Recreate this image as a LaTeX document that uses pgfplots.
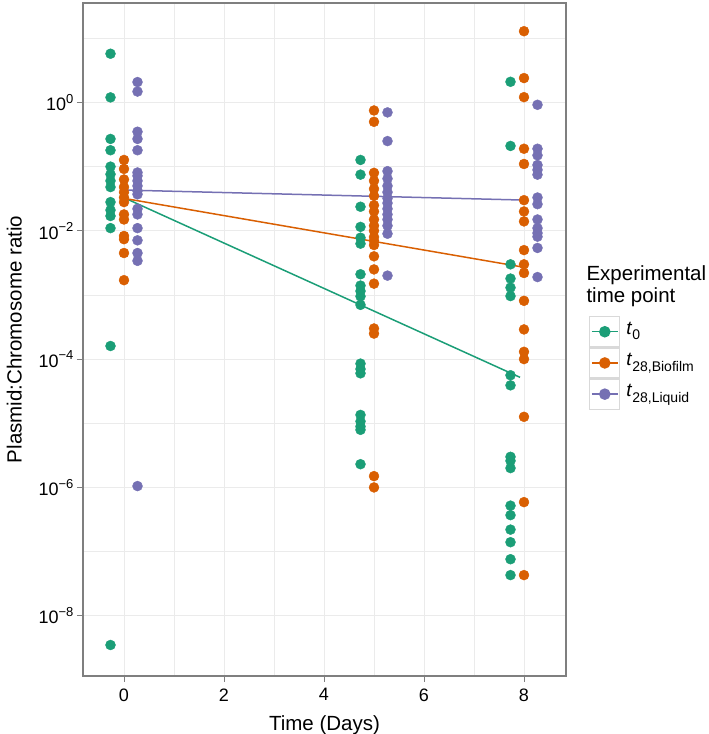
\documentclass[border=0pt]{standalone}
\usepackage{pgfplots}
\pgfplotsset{compat=1.18}
\usepackage{fontspec}
\setmainfont{Liberation Sans}
\definecolor{cg}{HTML}{1B9E77}
\definecolor{co}{HTML}{D95F02}
\definecolor{cp}{HTML}{7570B3}
\definecolor{gridc}{HTML}{EBEBEB}
\definecolor{bordc}{HTML}{7F7F7F}
\newcommand\tp[1]{10\raisebox{0.42em}{\fontsize{13}{13}\selectfont #1}}
\newcommand\lab[1]{\textit{t}\raisebox{-0.28em}{\fontsize{14}{14}\selectfont #1}}

\pgfplotstableread{
x y
-0.27 5.75
-0.27 1.2
-0.27 0.27
-0.27 0.18
-0.27 0.1
-0.27 0.076
-0.27 0.06
-0.27 0.048
-0.27 0.028
-0.27 0.021
-0.27 0.017
-0.27 0.011
-0.27 1.6e-4
-0.27 3.5e-9
4.73 0.127
4.73 0.075
4.73 0.0237
4.73 0.0115
4.73 0.0078
4.73 0.0063
4.73 0.0021
4.73 0.0014
4.73 0.00115
4.73 0.00095
4.73 0.0007
4.73 8.5e-5
4.73 7e-5
4.73 6e-5
4.73 1.35e-5
4.73 1.07e-5
4.73 8.9e-6
4.73 7.9e-6
4.73 2.3e-6
7.73 2.1
7.73 0.21
7.73 0.003
7.73 0.0018
7.73 0.0013
7.73 0.00096
7.73 5.6e-5
7.73 3.9e-5
7.73 3e-6
7.73 2.6e-6
7.73 2.0e-6
7.73 5.2e-7
7.73 3.7e-7
7.73 2.2e-7
7.73 1.4e-7
7.73 7.6e-8
7.73 4.3e-8
}\greendata

\pgfplotstableread{
x y
0 0.127
0 0.092
0 0.063
0 0.048
0 0.040
0 0.033
0 0.028
0 0.018
0 0.015
0 0.0083
0 0.0074
0 0.0045
0 0.0017
5 0.75
5 0.5
5 0.08
5 0.06
5 0.045
5 0.035
5 0.025
5 0.02
5 0.015
5 0.012
5 0.01
5 0.008
5 0.007
5 0.006
5 0.004
5 0.0025
5 0.0015
5 3e-4
5 2.5e-4
5 1.5e-6
5 1e-6
8 12.9
8 2.4
8 1.21
8 0.19
8 0.11
8 0.030
8 0.020
8 0.014
8 0.005
8 0.003
8 0.0022
8 0.00081
8 0.00029
8 1.3e-4
8 1e-4
8 1.26e-5
8 5.9e-7
8 4.3e-8
}\orangedata

\pgfplotstableread{
x y
0.27 2.08
0.27 1.48
0.27 0.35
0.27 0.27
0.27 0.18
0.27 0.081
0.27 0.072
0.27 0.060
0.27 0.050
0.27 0.042
0.27 0.037
0.27 0.022
0.27 0.018
0.27 0.011
0.27 0.0071
0.27 0.0045
0.27 0.0034
0.27 1.05e-6
5.27 0.7
5.27 0.25
5.27 0.085
5.27 0.065
5.27 0.05
5.27 0.04
5.27 0.032
5.27 0.027
5.27 0.022
5.27 0.018
5.27 0.015
5.27 0.012
5.27 0.009
5.27 0.002
8.27 0.92
8.27 0.19
8.27 0.15
8.27 0.106
8.27 0.089
8.27 0.075
8.27 0.033
8.27 0.026
8.27 0.015
8.27 0.011
8.27 0.0092
8.27 0.0081
8.27 0.0054
8.27 0.0019
}\purpledata

\begin{document}
\begin{tikzpicture}[x=1pt,y=1pt]
\useasboundingbox (0,0) rectangle (709,734);
\begin{axis}[
  at={(83pt,58pt)}, anchor=south west,
  scale only axis, width=483pt, height=673pt,
  xmin=-0.82, xmax=8.84,
  ymode=log, ymin=1.15e-9, ymax=35.5,
  xtick={0,2,4,6,8}, minor xtick={1,3,5,7},
  xticklabels={0,2,4,6,8},
  ytick={1e-8,1e-6,1e-4,1e-2,1},
  minor ytick={1e-7,1e-5,1e-3,1e-1,10},
  yticklabels={\tp{−8},\tp{−6},\tp{−4},\tp{−2},\tp{0}},
  xtick pos=bottom, ytick pos=left,
  /pgf/number format/assume math mode=true,
  grid=both,
  major grid style={gridc, line width=0.9pt},
  minor grid style={gridc, line width=0.5pt},
  tick align=outside, major tick length=6pt, minor tick length=0pt,
  tick style={bordc, line width=1pt},
  axis line style={bordc, line width=1.3pt},
  ticklabel style={font=\fontsize{18}{18}\selectfont},
  xticklabel style={yshift=-3pt},
  xlabel={Time (Days)}, ylabel={Plasmid:Chromosome ratio},
  label style={font=\fontsize{20.5}{22}\selectfont},
  xlabel style={at={(axis description cs:0.5,-0.073)}, anchor=center},
  ylabel style={at={(axis description cs:-0.142,0.5)}, anchor=center},
  legend style={at={(axis description cs:1.0476,0.535)}, anchor=north west,
    draw=none, fill=none, row sep=0pt, inner sep=0pt, column sep=6pt,
    nodes={inner sep=0pt, outer sep=0pt, font=\fontsize{19}{19}\selectfont}},
  legend cell align=left,
]
\addplot[only marks, mark=*, mark size=5pt, cg, forget plot] table {\greendata};
\addplot[only marks, mark=*, mark size=5pt, co, forget plot] table {\orangedata};
\addplot[only marks, mark=*, mark size=5pt, cp, forget plot] table {\purpledata};

\addplot[cg, line width=1.5pt, mark=none,
  legend image code/.code={
    \draw[gray!30, line width=1.2pt, fill=white] (0pt,-17.6pt) rectangle (30pt,12.4pt);
    \draw[cg, line width=1.5pt] (2pt,-2.6pt) -- (28pt,-2.6pt);
    \fill[cg] (15pt,-2.6pt) circle (5pt);}]
  coordinates {(-0.08,0.035) (7.92,5.2e-5)};
\addlegendentry{\lab{0}}
\addplot[co, line width=1.5pt, mark=none,
  legend image code/.code={
    \draw[gray!30, line width=1.2pt, fill=white] (0pt,-17.6pt) rectangle (30pt,12.4pt);
    \draw[co, line width=1.5pt] (2pt,-2.6pt) -- (28pt,-2.6pt);
    \fill[co] (15pt,-2.6pt) circle (5pt);}]
  coordinates {(0,0.032) (8,0.0027)};
\addlegendentry{\lab{28,Biofilm}}
\addplot[cp, line width=1.5pt, mark=none,
  legend image code/.code={
    \draw[gray!30, line width=1.2pt, fill=white] (0pt,-17.6pt) rectangle (30pt,12.4pt);
    \draw[cp, line width=1.5pt] (2pt,-2.6pt) -- (28pt,-2.6pt);
    \fill[cp] (15pt,-2.6pt) circle (5pt);}]
  coordinates {(0.08,0.043) (8.08,0.030)};
\addlegendentry{\lab{28,Liquid}}
\end{axis}
\node[anchor=base west, font=\fontsize{20.5}{22}\selectfont] at (583,453) {Experimental};
\node[anchor=base west, font=\fontsize{20.5}{22}\selectfont] at (583,431) {time point};
\end{tikzpicture}
\end{document}
